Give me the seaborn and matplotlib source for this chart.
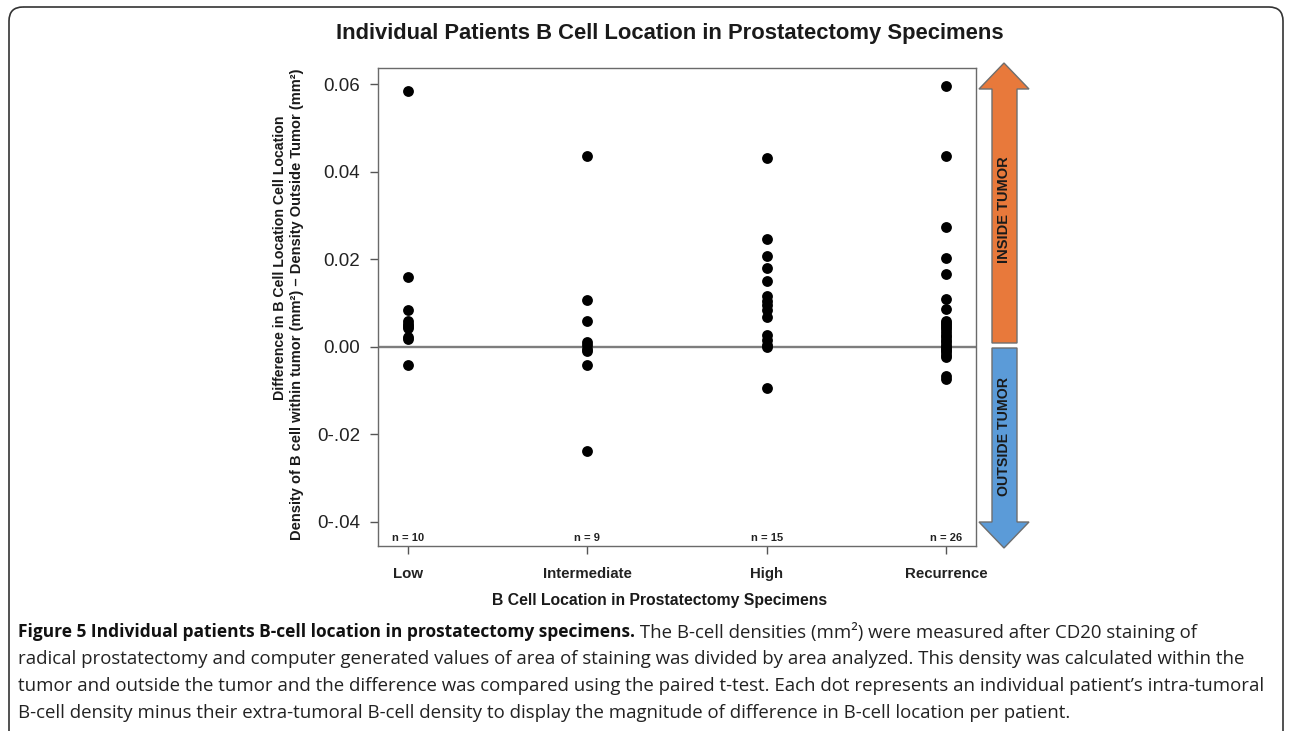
import numpy as np
import pandas as pd
import matplotlib
matplotlib.use("Agg")
import matplotlib.pyplot as plt
import seaborn as sns
from matplotlib.patches import Polygon, FancyBboxPatch

# ---------------- data ----------------
categories = ["Low", "Intermediate", "High", "Recurrence"]
low = [0.0584, 0.0160, 0.0085, 0.0060, 0.0053, 0.0047, 0.0042, 0.0022, 0.0018, -0.0041]
intermediate = [0.0435, 0.0106, 0.0060, 0.0010, 0.0004, -0.0004, -0.0010, -0.0041, -0.0237]
high = [0.0430, 0.0246, 0.0208, 0.0179, 0.0150, 0.0115, 0.0104, 0.0095, 0.0083,
        0.0068, 0.0026, 0.0015, 0.0005, 0.0000, -0.0093]
recurrence = [0.0596, 0.0436, 0.0274, 0.0202, 0.0166, 0.0110, 0.0086,
              0.0060, 0.0055, 0.0050, 0.0045, 0.0040, 0.0034, 0.0028, 0.0022,
              0.0016, 0.0010, 0.0005, 0.0000, -0.0004, -0.0008, -0.0013,
              -0.0018, -0.0023, -0.0066, -0.0074]
y_ticks = [0.06, 0.04, 0.02, 0.00, -0.02, -0.04]
y_tick_labels = ["0.06", "0.04", "0.02", "0.00", "0-.02", "0-.04"]

title = "Individual Patients B Cell Location in Prostatectomy Specimens"
x_label = "B Cell Location in Prostatectomy Specimens"
y_label_1 = "Difference in B Cell Location Cell Location"
y_label_2 = "Density of B cell within tumor (mm\u00b2) \u2013 Density Outside Tumor (mm\u00b2)"
caption_bold = "Figure 5 Individual patients B-cell location in prostatectomy specimens."
caption_lines = [
    " The B-cell densities (mm\u00b2) were measured after CD20 staining of",
    "radical prostatectomy and computer generated values of area of staining was divided by area analyzed. This density was calculated within the",
    "tumor and outside the tumor and the difference was compared using the paired t-test. Each dot represents an individual patient\u2019s intra-tumoral",
    "B-cell density minus their extra-tumoral B-cell density to display the magnitude of difference in B-cell location per patient.",
]

groups = [low, intermediate, high, recurrence]
df = pd.DataFrame({
    "group": np.repeat(categories, [len(g) for g in groups]),
    "diff": np.concatenate(groups),
})

# ---------------- figure ----------------
sns.set_theme(style="white")
plt.rcParams["font.family"] = ["Liberation Sans", "DejaVu Sans"]

W, H = 1290, 731
fig = plt.figure(figsize=(W / 100, H / 100), dpi=100)
fig.patch.set_facecolor("white")

ax = fig.add_axes([378 / W, 1 - 546 / H, 598 / W, 478 / H])
ax.axhline(0, color="#7d7d7d", lw=1.7, zorder=1)
sns.stripplot(data=df, x="group", y="diff", order=categories, jitter=False,
              color="black", size=7.8, linewidth=0, ax=ax, zorder=3)
ax.set_xlim(-0.167, 3.167)
ax.set_ylim(-0.04549, 0.06366)
ax.set_yticks(y_ticks)
ax.set_yticklabels(y_tick_labels, fontsize=13.5, color="#222222")
ax.set_xticks(range(len(categories)))
ax.set_xticklabels(categories, fontsize=10.8, fontweight="bold", color="#222222")
ax.tick_params(axis="y", which="major", direction="out", length=6, width=1,
               color="#555555", pad=7, left=True)
ax.tick_params(axis="x", which="major", direction="out", length=6, width=1,
               color="#555555", pad=9, bottom=True)
ax.set_xlabel("")
ax.set_ylabel("")
for s in ax.spines.values():
    s.set_color("#6a6a6a")
    s.set_linewidth(1.0)

for i, g in enumerate(groups):
    ax.text(i, 0.016, f"n = {len(g)}", transform=ax.get_xaxis_transform(),
            ha="center", va="center", fontsize=8, fontweight="bold", color="#222222")

# ---------------- overlay for texts / decorations (pixel coordinates) ----------------
ov2 = fig.add_axes([0, 0, 1, 1], zorder=5)
ov2.set_xlim(0, W)
ov2.set_ylim(H, 0)
ov2.axis("off")
ov2.patch.set_alpha(0)

frame = FancyBboxPatch((9, 7), 1274, 780, boxstyle="round,pad=0,rounding_size=14",
                       facecolor="none", edgecolor="#333333", lw=1.2, clip_on=False)
ov2.add_patch(frame)

ov2.text(670, 34, title, ha="center", va="center", fontsize=15.8,
         fontweight="bold", color="#1a1a1a")
ov2.text(660, 601, x_label, ha="center", va="center", fontsize=11.3,
         fontweight="bold", color="#1a1a1a")
ov2.text(280, 258, y_label_1, ha="center", va="center", rotation=90,
         fontsize=10.2, fontweight="bold", color="#1a1a1a")
ov2.text(297, 304, y_label_2, ha="center", va="center", rotation=90,
         fontsize=10.5, fontweight="bold", color="#1a1a1a")

# arrows
up = Polygon([(1004, 63), (1029, 89), (1017, 89), (1017, 343), (992, 343),
              (992, 89), (979, 89)], closed=True, facecolor="#E8793B",
             edgecolor="#6e6e6e", lw=1.0)
down = Polygon([(992, 348), (1017, 348), (1017, 522), (1029, 522), (1004, 548),
                (979, 522), (992, 522)], closed=True, facecolor="#5B9BD8",
               edgecolor="#6e6e6e", lw=1.0)
ov2.add_patch(up)
ov2.add_patch(down)
ov2.text(1004.5, 210, "INSIDE TUMOR", rotation=90, ha="center", va="center",
         fontsize=10.5, fontweight="bold", color="#1a1a1a")
ov2.text(1004.5, 437, "OUTSIDE TUMOR", rotation=90, ha="center", va="center",
         fontsize=10.2, fontweight="bold", color="#1a1a1a")

# caption
cap_font = ["Open Sans", "DejaVu Sans"]
cap_y = [632, 659, 686, 713]
t1 = ov2.text(18, cap_y[0], caption_bold, ha="left", va="center", fontsize=12.5,
              fontweight="bold", family=cap_font, color="#111111")
ov2.annotate(caption_lines[0], xy=(1, 0.5), xycoords=t1, ha="left", va="center",
             fontsize=13.4, family=cap_font, color="#222222")
for yy, line in zip(cap_y[1:], caption_lines[1:]):
    ov2.text(18, yy, line, ha="left", va="center", fontsize=13.4,
             family=cap_font, color="#222222")

fig.savefig("out.png", dpi=100, facecolor="white")
